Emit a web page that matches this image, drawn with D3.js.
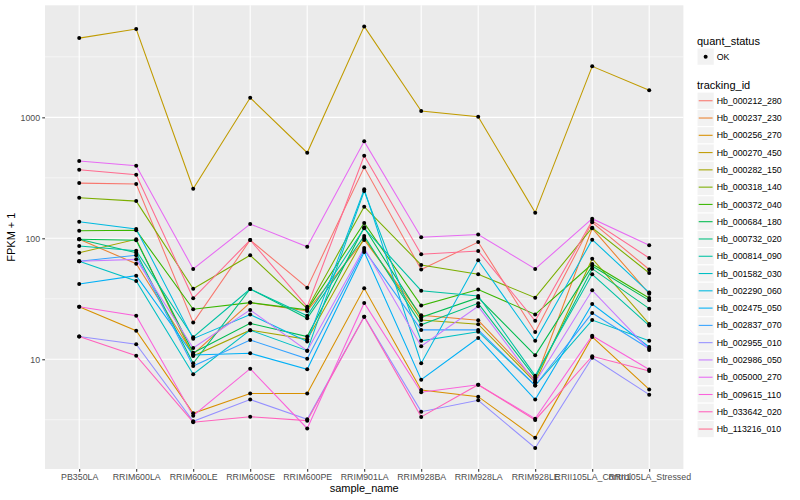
<!DOCTYPE html>
<html>
<head>
<meta charset="utf-8">
<script src="https://cdn.jsdelivr.net/npm/d3@7"></script>
<style>
  body { margin: 0; background: #fff; }
  text { font-family: "Liberation Sans", Arial, Helvetica, sans-serif; }
</style>
</head>
<body>
<svg width="800" height="500"></svg>
<script>
// samples on the x axis
const SAMPLES = ['PB350LA', 'RRIM600LA', 'RRIM600LE', 'RRIM600SE', 'RRIM600PE', 'RRIM901LA',
  'RRIM928BA', 'RRIM928LA', 'RRIM928LE', 'RRII105LA_Control', 'RRII105LA_Stressed']

const TRACKING_IDS = ['Hb_000212_280', 'Hb_000237_230', 'Hb_000256_270', 'Hb_000270_450', 'Hb_000282_150',
  'Hb_000318_140', 'Hb_000372_040', 'Hb_000684_180', 'Hb_000732_020', 'Hb_000814_090',
  'Hb_001582_030', 'Hb_002290_060', 'Hb_002475_050', 'Hb_002837_070', 'Hb_002955_010',
  'Hb_002986_050', 'Hb_005000_270', 'Hb_009615_110', 'Hb_033642_020', 'Hb_113216_010']

// ggplot hue palette, 20 levels
const COLORS = ['#F8766D', '#EA8331', '#D89000', '#C09B00', '#A3A500', '#7CAE00', '#39B600', '#00BB4E',
  '#00BF7D', '#00C1A3', '#00BFC4', '#00BAE0', '#00B0F6', '#35A2FF', '#9590FF', '#C77CFF',
  '#E76BF3', '#FA62DB', '#FF62BC', '#FF6C90']

// FPKM + 1, one value per sample
const hb000212_280 = [286, 281, 20.1, 96.8, 39.1, 386, 55.2, 93.1, 16.8, 135.6, 55.2]
const hb000237_230 = [98.1, 61.7, 11.0, 29.4, 25.1, 96.8, 23.1, 21.0, 6.75, 120.9, 34.8]
const hb000256_270 = [27.2, 17.2, 3.58, 5.22, 5.22, 38.6, 5.58, 4.91, 2.24, 15.3, 5.63]
const hb000270_450 = [4519, 5368, 257, 1452, 510, 5649, 1127, 1012, 163, 2640, 1672]
const hb000282_150 = [76.0, 98.1, 10.65, 17.4, 14.6, 100.6, 21.1, 19.5, 6.46, 67.8, 19.6]
const hb000318_140 = [216.5, 203, 38.3, 72.4, 26.2, 182.5, 60.2, 50.4, 32.3, 122.3, 51.7]
const hb000372_040 = [115.5, 116.4, 25.9, 29.4, 25.6, 133.8, 27.8, 37.7, 23.5, 61.3, 32.1]
const hb000684_180 = [98.1, 96.3, 11.34, 19.8, 15.4, 123.3, 22.2, 32.3, 10.79, 59.0, 30.7]
const hb000732_020 = [98.1, 76.0, 9.27, 38.1, 21.8, 104.5, 19.3, 29.0, 7.05, 56.1, 26.2]
const hb000814_090 = [86.4, 79.0, 15.2, 38.1, 22.9, 120.9, 36.9, 33.4, 7.32, 50.4, 19.0]
const hb001582_030 = [64.6, 44.4, 7.52, 17.4, 11.78, 246, 14.2, 16.9, 6.07, 21.1, 14.2]
const hb002290_060 = [137.1, 119.4, 14.8, 23.4, 14.0, 254, 9.27, 65.8, 14.2, 97.4, 35.6]
const hb002475_050 = [41.9, 49.1, 10.85, 11.21, 8.27, 77.0, 6.78, 15.0, 4.64, 28.6, 12.64]
const hb002837_070 = [64.6, 72.4, 8.80, 14.44, 10.1, 80.0, 17.5, 17.5, 6.07, 24.1, 12.23]
const hb002955_010 = [15.4, 13.3, 3.07, 4.64, 3.19, 22.5, 3.69, 4.58, 1.85, 10.3, 5.10]
const hb002986_050 = [64.6, 67.0, 12.4, 25.6, 11.78, 83.1, 12.81, 27.4, 6.46, 37.2, 11.94]
const hb005000_270 = [435, 398, 55.8, 131.3, 85.2, 633, 101.9, 107.5, 55.8, 145.2, 87.5]
const hb009615_110 = [27.2, 22.9, 3.42, 8.36, 2.68, 29.2, 5.34, 6.16, 3.23, 15.67, 8.24]
const hb033642_020 = [15.4, 10.71, 3.02, 3.35, 3.11, 22.5, 3.34, 6.16, 3.15, 10.59, 8.0]
const hb113216_010 = [369, 335, 31.9, 96.8, 27.2, 481, 73.8, 78.5, 20.8, 139.8, 68.7]

const SERIES = [hb000212_280, hb000237_230, hb000256_270, hb000270_450, hb000282_150,
  hb000318_140, hb000372_040, hb000684_180, hb000732_020, hb000814_090,
  hb001582_030, hb002290_060, hb002475_050, hb002837_070, hb002955_010,
  hb002986_050, hb005000_270, hb009615_110, hb033642_020, hb113216_010]

const Y_TICKS = [10, 100, 1000]
const Y_TICK_LABELS = ['10', '100', '1000']
const Y_MINOR = [10 ** 0.5, 10 ** 1.5, 10 ** 2.5, 10 ** 3.5]
const STATUS = ['OK']

const data = TRACKING_IDS.map((id, i) => ({
  id: id,
  color: COLORS[i],
  points: SAMPLES.map((s, j) => ({ sample: s, value: SERIES[i][j] }))
}))

const svg = d3.select('svg')
const pLeft = 45, pRight = 683.4, pTop = 5.3, pBottom = 469

const x = d3.scalePoint().domain(SAMPLES).range([pLeft, pRight]).padding(0.6)

// log scale with ggplot's 5% expansion
const allValues = SERIES.flat()
const lo = Math.log10(d3.min(allValues))
const hi = Math.log10(d3.max(allValues))
const pad = (hi - lo) * 0.05
const y = d3.scaleLog().domain([10 ** (lo - pad), 10 ** (hi + pad)]).range([pBottom, pTop])

// panel
svg.append('rect')
  .attr('x', pLeft).attr('y', pTop)
  .attr('width', pRight - pLeft).attr('height', pBottom - pTop)
  .attr('fill', '#EBEBEB')

svg.append('g').selectAll('line')
  .data(Y_MINOR)
  .enter().append('line')
  .attr('x1', pLeft).attr('x2', pRight)
  .attr('y1', d => y(d)).attr('y2', d => y(d))
  .attr('stroke', '#fff').attr('stroke-width', 0.53)

svg.append('g').selectAll('line')
  .data(Y_TICKS)
  .enter().append('line')
  .attr('x1', pLeft).attr('x2', pRight)
  .attr('y1', d => y(d)).attr('y2', d => y(d))
  .attr('stroke', '#fff').attr('stroke-width', 1.07)

svg.append('g').selectAll('line')
  .data(SAMPLES)
  .enter().append('line')
  .attr('x1', d => x(d)).attr('x2', d => x(d))
  .attr('y1', pTop).attr('y2', pBottom)
  .attr('stroke', '#fff').attr('stroke-width', 1.07)

// lines
const line = d3.line().x(d => x(d.sample)).y(d => y(d.value))

svg.append('g').selectAll('path')
  .data(data)
  .enter().append('path')
  .attr('d', d => line(d.points))
  .attr('fill', 'none')
  .attr('stroke', d => d.color)
  .attr('stroke-width', 1.07)

// points
svg.append('g').selectAll('circle')
  .data(data.flatMap(d => d.points))
  .enter().append('circle')
  .attr('cx', d => x(d.sample))
  .attr('cy', d => y(d.value))
  .attr('r', 2)
  .attr('fill', '#000')

// axes
const xAxis = svg.append('g')
  .attr('transform', `translate(0,${pBottom})`)
  .call(d3.axisBottom(x).tickSize(2.75).tickPadding(2.2))
const yAxis = svg.append('g')
  .attr('transform', `translate(${pLeft},0)`)
  .call(d3.axisLeft(y).tickValues(Y_TICKS).tickFormat((d, i) => Y_TICK_LABELS[i]).tickSize(2.75).tickPadding(2.2))

;[xAxis, yAxis].forEach(g => {
  g.select('.domain').remove()
  g.selectAll('.tick line').attr('stroke', '#333333').attr('stroke-width', 1.07)
  g.selectAll('.tick text')
    .attr('fill', '#4D4D4D')
    .style('font-size', '8.8px')
    .style('font-family', '"Liberation Sans", Arial, sans-serif')
})

svg.append('text')
  .attr('x', (pLeft + pRight) / 2).attr('y', 492)
  .attr('text-anchor', 'middle')
  .style('font-size', '11px')
  .text('sample_name')

svg.append('text')
  .attr('transform', `translate(15,${(pTop + pBottom) / 2}) rotate(-90)`)
  .attr('text-anchor', 'middle')
  .style('font-size', '11px')
  .text('FPKM + 1')

// legends
const lx = 697, keySize = 17.28
const legend = svg.append('g')

legend.append('text').attr('x', lx).attr('y', 44.5).style('font-size', '11px').text('quant_status')
const status = legend.selectAll('.status')
  .data(STATUS)
  .enter().append('g')
  .attr('transform', (d, i) => `translate(${lx},${48 + i * keySize})`)
status.append('rect')
  .attr('width', keySize).attr('height', keySize)
  .attr('fill', '#F2F2F2').attr('stroke', '#fff')
status.append('circle')
  .attr('cx', keySize / 2).attr('cy', keySize / 2).attr('r', 2).attr('fill', '#000')
status.append('text')
  .attr('x', keySize + 2.4).attr('y', keySize / 2 + 3.1)
  .style('font-size', '8.8px')
  .text(d => d)

legend.append('text').attr('x', lx).attr('y', 89).style('font-size', '11px').text('tracking_id')
const keys = legend.selectAll('.key')
  .data(data)
  .enter().append('g')
  .attr('transform', (d, i) => `translate(${lx},${92.1 + i * keySize})`)
keys.append('rect')
  .attr('width', keySize).attr('height', keySize)
  .attr('fill', '#F2F2F2').attr('stroke', '#fff')
keys.append('line')
  .attr('x1', 1.7).attr('x2', keySize - 1.7)
  .attr('y1', keySize / 2).attr('y2', keySize / 2)
  .attr('stroke', d => d.color).attr('stroke-width', 1.07)
keys.append('text')
  .attr('x', keySize + 2.4).attr('y', keySize / 2 + 3.1)
  .style('font-size', '8.8px')
  .text(d => d.id)
</script>
</body>
</html>
